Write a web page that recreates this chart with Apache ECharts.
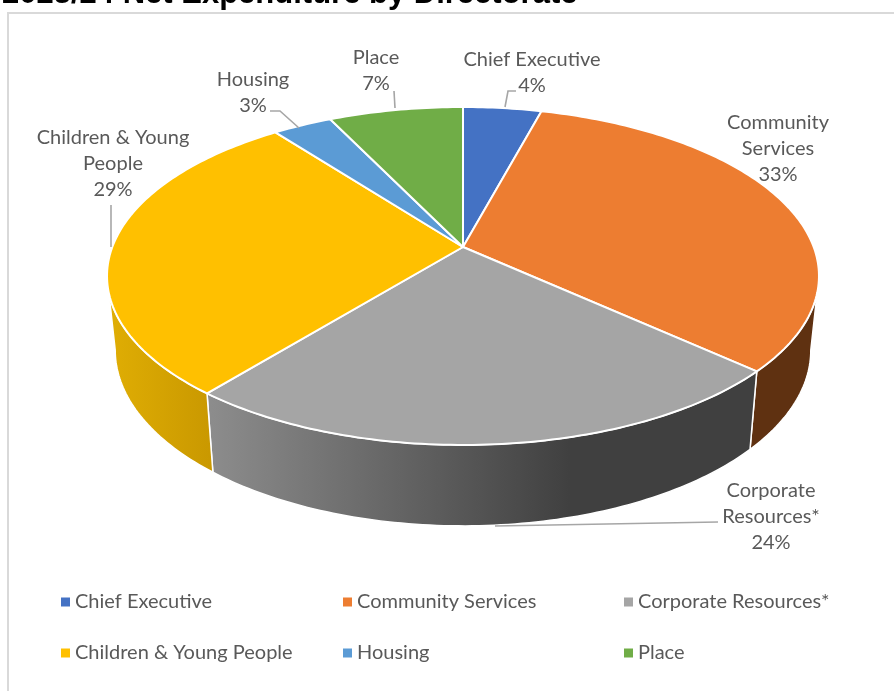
<!DOCTYPE html>
<html><head><meta charset="utf-8">
<style>html,body{margin:0;padding:0;background:#fff}#c{width:894px;height:691px}</style>
<script src="https://cdn.jsdelivr.net/npm/echarts@6/dist/echarts.min.js"></script>
</head><body><div id="c"></div>
<script>
// ---- data ----
const categories = ['Chief Executive','Community Services','Corporate Resources*','Children & Young People','Housing','Place'];
const shares = [4.2, 32.52, 24.2, 28.7, 3.2, 7.2];
const titleText = '2023/24 Net Expenditure by Directorate';

// ---- style / layout ----
const topColors = ['#4472C4','#ED7D31','#A5A5A5','#FFC000','#5B9BD5','#70AD47'];
const gradient = (x, x2, a, b) => ({type:'linear', x, y:0, x2, y2:0, global:true, colorStops:[{offset:0,color:a},{offset:1,color:b}]});
const sideFills = [
  '#2a4476', '#5f3111',
  gradient(207, 570, '#8d8d8d', '#404040'),
  gradient(107, 213, '#e0ae04', '#c99800'),
  '#365d80', '#43682b'
];
const FONT = 'Lato, "Open Sans", sans-serif';
const TEXT = '#595959', LEADER = '#a6a6a6';
const view = {cx:463, apexY:247, A:350.7, B:164, k:0.1716, bottomX:0.977, bottomY:1.04, depth:73};
const labelLayout = [
  {x:532, y:60, lines:['Chief Executive'], leader:[[505,107],[508,91],[516,91]]},
  {x:778, y:123, lines:['Community','Services'], leader:null},
  {x:771, y:491, lines:['Corporate','Resources*'], leader:[[495,526],[718,522]]},
  {x:113, y:138, lines:['Children & Young','People'], leader:[[111,247],[111,205]]},
  {x:253, y:80, lines:['Housing'], leader:[[299,128],[280,111],[270,111]]},
  {x:376, y:58, lines:['Place'], leader:[[395,108],[394,91]]}
];
const legendPos = [[56,587],[338,587],[619,587],[56,638],[338,638],[619,638]];

const silhouette = Math.acos(-view.k) * 180 / Math.PI;   // angle where the rim leaves the visible side
function project(deg, bottom) {
  const t = deg * Math.PI / 180, w = 1 + view.k * Math.cos(t);
  const sx = bottom ? view.bottomX : 1, sy = bottom ? view.bottomY : 1;
  return [view.cx + sx * view.A * Math.sin(t) / w,
          view.apexY + (bottom ? view.depth : 0) - sy * view.B * Math.cos(t) / w];
}
function arc(a, b, bottom) {
  const pts = [], n = Math.max(2, Math.ceil(Math.abs(b - a)));
  for (let i = 0; i <= n; i++) pts.push(project(a + (b - a) * i / n, bottom));
  return pts;
}
const total = shares.reduce((a, b) => a + b, 0);
function renderSlice(index) {
  return function (params, api) {
    let before = 0;
    for (let i = 0; i < index; i++) before += shares[i];
    const a = before / total * 360, b = a + api.value(0) / total * 360;
    const children = [];
    const s0 = Math.max(a, silhouette), s1 = Math.min(b, 360 - silhouette);
    if (s1 > s0) {
      children.push({type:'polygon', z2:1,
        shape:{points: arc(s0, s1, false).concat(arc(s1, s0, true))},
        style:{fill: sideFills[index], stroke:'#fff', lineWidth:1.5, lineJoin:'round'}});
    }
    children.push({type:'polygon', z2:5,
      shape:{points: [[view.cx, view.apexY]].concat(arc(a, b, false))},
      style:{fill: topColors[index], stroke:'#fff', lineWidth:2, lineJoin:'round'}});
    const lay = labelLayout[index];
    const pct = Math.round(Math.max(api.value(0) / total * 100, 0)) + '%';
    if (lay.leader) children.push({type:'polyline', z2:8, shape:{points:lay.leader},
      style:{fill:null, stroke:LEADER, lineWidth:1.6}});
    lay.lines.concat([pct]).forEach((t, i) => children.push({type:'text', z2:9,
      style:{x:lay.x, y:lay.y + i * 26, text:t, fill:TEXT, font:'20px ' + FONT, align:'center', verticalAlign:'middle'}}));
    return {type:'group', children};
  };
}
const chart = echarts.init(document.getElementById('c'), null, {renderer:'canvas'});
chart.setOption({
  animation:false,
  backgroundColor:'#fff',
  title:{text:titleText, left:-3, top:-26, textStyle:{fontFamily:'"Liberation Sans", Arial, sans-serif', fontWeight:'bold', fontSize:31, color:'#000'}},
  graphic:[{type:'rect', z:-1, shape:{x:8, y:13, width:1000, height:800}, style:{fill:'#fff', stroke:'#d9d9d9', lineWidth:2}}],
  legend: categories.map((name, i) => ({
    data:[name], left:legendPos[i][0], top:legendPos[i][1], icon:'rect', itemWidth:9, itemHeight:9, selectedMode:false,
    textStyle:{fontFamily:FONT, fontSize:20, color:TEXT}
  })),
  series: categories.map((name, i) => ({
    type:'custom', name, coordinateSystem:'none', clip:false,
    itemStyle:{color:topColors[i]},
    data:[[shares[i]]],
    renderItem: renderSlice(i)
  }))
});
</script></body></html>
